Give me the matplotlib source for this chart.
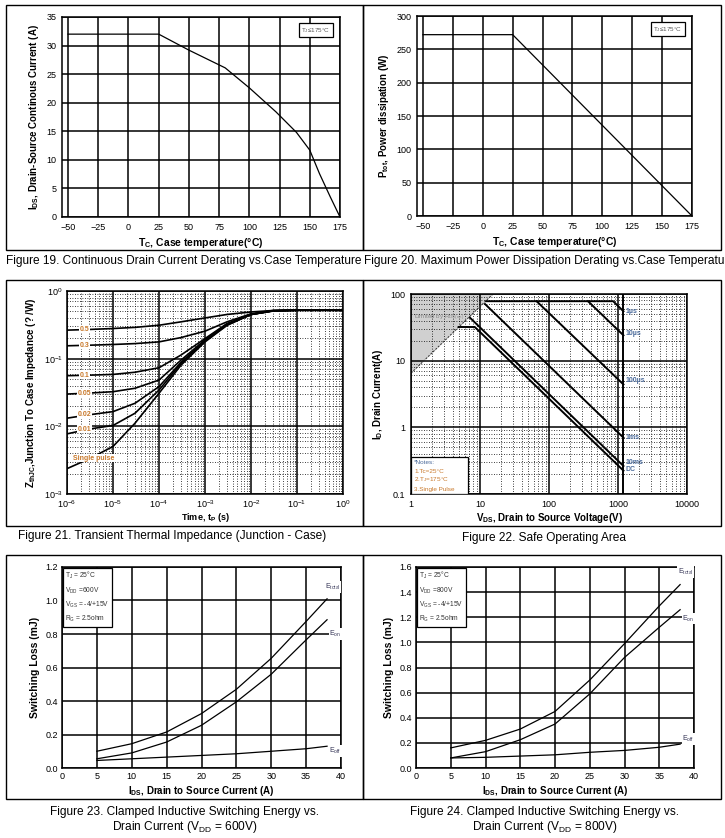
import matplotlib
matplotlib.use("Agg")
import matplotlib.pyplot as plt
from matplotlib.patches import Rectangle
from matplotlib.ticker import FixedLocator, NullFormatter, LogLocator

plt.rcParams['font.family'] = ['Liberation Sans', 'DejaVu Sans']

W, H = 725, 838

# Figure 19: continuous drain current derating
tc_id = [-50, 25, 50, 80, 100, 122, 139, 150, 158, 167, 175]
id_cont = [32, 32, 29.2, 26.1, 22.6, 18.4, 14.8, 11.7, 7.6, 3.5, 0]

# Figure 20: power dissipation derating
tc_p = [-50, 25, 175]
p_tot = [272, 272, 0]

# Figure 21: transient thermal impedance
t_p = [1e-6, 3e-6, 1e-5, 3e-5, 1e-4, 3e-4, 1e-3, 3e-3, 1e-2, 3e-2, 1e-1, 1]
z_curves = {
    "0.5": [0.264, 0.27, 0.279, 0.29, 0.312, 0.35, 0.40, 0.45, 0.49, 0.515, 0.52, 0.52],
    "0.3": [0.155, 0.158, 0.162, 0.167, 0.177, 0.205, 0.255, 0.35, 0.46, 0.515, 0.52, 0.52],
    "0.1": [0.056, 0.057, 0.0585, 0.063, 0.0734, 0.113, 0.198, 0.33, 0.45, 0.51, 0.52, 0.52],
    "0.05": [0.030, 0.031, 0.0325, 0.0365, 0.0483, 0.095, 0.19, 0.325, 0.45, 0.51, 0.52, 0.52],
    "0.02": [0.0132, 0.0148, 0.0165, 0.0219, 0.0386, 0.088, 0.186, 0.32, 0.45, 0.51, 0.52, 0.52],
    "0.01": [0.00774, 0.0091, 0.0103, 0.0156, 0.0344, 0.085, 0.181, 0.315, 0.45, 0.51, 0.52, 0.52],
    "Single pulse": [0.00237, 0.0033, 0.00504, 0.0111, 0.0308, 0.080, 0.177, 0.31, 0.45, 0.505, 0.52, 0.52],
}
z_label_y = {"0.5": 0.27, "0.3": 0.158, "0.1": 0.057, "0.05": 0.031,
             "0.02": 0.0148, "0.01": 0.0091, "Single pulse": 0.0034}

# Figure 22: safe operating area
rds_v = [1, 15.4]
rds_i = [6.5, 100]
soa_lines = {
    "1µs": ([12.3, 850, 1200], [78, 78, 55]),
    "10µs": ([367, 1200], [78, 24]),
    "100µs": ([66, 1200], [78, 4.4]),
    "1ms": ([11.8, 1200], [70.8, 0.7]),
    "10ms": ([7.17, 1200], [44, 0.263]),
    "DC": ([4.9, 8.4, 1200], [32, 32, 0.224]),
}
soa_label_y = {"1µs": 54, "10µs": 26, "100µs": 5.0, "1ms": 0.7, "10ms": 0.3, "DC": 0.23}

# Figure 23: switching energy, VDD = 600 V
ids_23 = [5, 10, 15, 20, 25, 30, 35, 38]
etot_23 = [0.10, 0.145, 0.215, 0.325, 0.47, 0.655, 0.875, 1.01]
eon_23 = [0.055, 0.09, 0.155, 0.255, 0.395, 0.56, 0.765, 0.885]
eoff_23 = [0.045, 0.055, 0.065, 0.075, 0.085, 0.10, 0.115, 0.13]

# Figure 24: switching energy, VDD = 800 V
ids_24 = [5, 10, 15, 20, 25, 30, 35, 38]
etot_24 = [0.16, 0.22, 0.31, 0.45, 0.70, 0.99, 1.29, 1.46]
eon_24 = [0.08, 0.13, 0.225, 0.35, 0.59, 0.88, 1.12, 1.26]
eoff_24 = [0.08, 0.085, 0.095, 0.105, 0.125, 0.14, 0.165, 0.19]

ORANGE = '#c8782a'
BLUE = '#4a6a9a'


def px_axes(fig, l, t, r, b):
    return fig.add_axes([l / W, 1 - b / H, (r - l) / W, (b - t) / H])


def px_box(fig, l, t, r, b):
    fig.add_artist(Rectangle((l / W, 1 - b / H), (r - l) / W, (b - t) / H,
                             transform=fig.transFigure, fill=False, lw=1.0, color='k'))


def caption(fig, x, y, s, ha='left'):
    fig.text(x / W, 1 - y / H, s, fontsize=8.6, ha=ha, va='center')


def style_lin(ax, xt, yt, yfmt):
    ax.set_xticks(xt)
    ax.set_yticks(yt)
    ax.set_yticklabels([yfmt % v for v in yt])
    ax.grid(True, color='k', lw=1.1)
    ax.tick_params(length=0, labelsize=6.5, pad=4)
    for s in ax.spines.values():
        s.set_linewidth(1.1)


def style_log(ax):
    ax.grid(True, which='major', color='k', lw=1.1)
    ax.grid(True, which='minor', color='k', lw=0.6, ls=(0, (1, 2)))
    ax.tick_params(which='both', length=0, labelsize=6.5, pad=3)
    for s in ax.spines.values():
        s.set_linewidth(1.1)


def tj_box(ax):
    ax.text(0.965, 0.955, "T$_\\mathregular{J}$≤175°C", transform=ax.transAxes,
            fontsize=4.5, ha='right', va='top', color='#555555',
            bbox=dict(boxstyle='square,pad=0.4', fc='white', ec='k', lw=0.9))


def cond_box(ax, vdd):
    lines = ["T$_\\mathregular{J}$ = 25°C", "V$_\\mathregular{DD}$ =%dV" % vdd,
             "V$_\\mathregular{GS}$ = -4/+15V", "R$_\\mathregular{G}$ = 2.5ohm"]
    ax.text(0.012, 0.985, "\n".join(lines), transform=ax.transAxes, fontsize=4.8,
            ha='left', va='top', linespacing=1.6, color='#333333',
            bbox=dict(boxstyle='square,pad=0.35', fc='white', ec='k', lw=0.9), zorder=5)


def energy_plot(ax, x, etot, eon, eoff, ymax, vdd, lab_y):
    ax.plot(x, etot, color='k', lw=0.9)
    ax.plot(x, eon, color='k', lw=0.9)
    ax.plot(x, eoff, color='k', lw=0.9)
    ax.set_xlim(0, 40)
    ax.set_ylim(0, ymax)
    style_lin(ax, range(0, 41, 5), [round(v * 0.2, 1) for v in range(int(ymax / 0.2 + 0.5) + 1)], "%.1f")
    ax.tick_params(pad=3)
    ax.set_ylabel("Switching Loss (mJ)", fontsize=7.5, fontweight='bold')
    ax.set_xlabel("I$_\\mathregular{DS}$, Drain to Source Current (A)", fontsize=7, fontweight='bold', labelpad=2)
    for name, yv, xx in zip(["E$_\\mathregular{total}$", "E$_\\mathregular{on}$", "E$_\\mathregular{off}$"],
                            lab_y, [38.8, 39.2, 39.2]):
        ax.text(xx, yv, name, fontsize=5, color='#333355', ha='center', va='center',
                bbox=dict(fc='white', ec='none', pad=0.5))
    cond_box(ax, vdd)


fig = plt.figure(figsize=(W / 100, H / 100), dpi=100)

# panel frames
px_box(fig, 6, 5, 363, 250)
px_box(fig, 363, 5, 721, 250)
px_box(fig, 6, 280, 363, 526)
px_box(fig, 363, 280, 721, 526)
px_box(fig, 6, 555, 363, 799)
px_box(fig, 363, 555, 721, 799)

# Figure 19
ax = px_axes(fig, 62, 17, 340, 217)
ax.plot(tc_id, id_cont, color='k', lw=0.9)
ax.set_ylim(0, 35)
style_lin(ax, range(-50, 176, 25), range(0, 36, 5), "%d")
ax.set_xlim(-55, 175)
ax.set_ylabel("I$_\\mathregular{DS}$, Drain-Source Continous Current (A)", fontsize=7, fontweight='bold')
ax.set_xlabel("T$_\\mathregular{C}$, Case temperature(°C)", fontsize=7.5, fontweight='bold', labelpad=3)
tj_box(ax)
caption(fig, 6, 261, "Figure 19. Continuous Drain Current Derating vs.Case Temperature")

# Figure 20
ax = px_axes(fig, 417, 16, 692, 216)
ax.plot(tc_p, p_tot, color='k', lw=0.9)
ax.set_ylim(0, 300)
style_lin(ax, range(-50, 176, 25), range(0, 301, 50), "%d")
ax.set_xlim(-55, 175)
ax.set_ylabel("P$_\\mathregular{tot}$, Power dissipation (W)", fontsize=7, fontweight='bold')
ax.set_xlabel("T$_\\mathregular{C}$, Case temperature(°C)", fontsize=7.5, fontweight='bold', labelpad=3)
tj_box(ax)
caption(fig, 364, 261, "Figure 20. Maximum Power Dissipation Derating vs.Case Temperature")

# Figure 21
ax = px_axes(fig, 67, 291, 343, 494)
for name, z in z_curves.items():
    ax.plot(t_p, z, color='k', lw=1.2)
    xl = 1.35e-6 if name == "Single pulse" else 2.4e-6
    ax.text(xl, z_label_y[name], name, fontsize=5, fontweight='bold', color=ORANGE,
            ha='left' if name == "Single pulse" else 'center', va='center',
            bbox=dict(fc='white', ec='none', pad=0.3))
ax.set_xscale('log')
ax.set_yscale('log')
ax.set_xlim(1e-6, 1)
ax.set_ylim(1e-3, 1)
ax.xaxis.set_minor_locator(LogLocator(subs=range(2, 10)))
ax.yaxis.set_minor_locator(LogLocator(subs=range(2, 10)))
ax.xaxis.set_minor_formatter(NullFormatter())
ax.yaxis.set_minor_formatter(NullFormatter())
style_log(ax)
ax.set_ylabel("Z$_\\mathregular{thJC}$,Junction To Case Impedance (? /W)", fontsize=7, fontweight='bold')
ax.set_xlabel("Time, t$_\\mathregular{P}$ (s)", fontsize=6.5, fontweight='bold', labelpad=1)
caption(fig, 172, 536, "Figure 21. Transient Thermal Impedance (Junction - Case)", ha='center')

# Figure 22
ax = px_axes(fig, 411, 294, 687, 494)
ax.fill_between(rds_v, rds_i, 100, color='#d0d0d0', lw=0, zorder=0.5)
ax.plot(rds_v, rds_i, color='#333333', lw=0.7, ls=(0, (2, 1.5)))
ax.text(1.1, 44, "Limited by R$_\\mathregular{DS(on)}$", fontsize=4.5, color='#888888', va='center')
for name, (v, i) in soa_lines.items():
    ax.plot(v, i, color='k', lw=1.4)
    ax.text(1300, soa_label_y[name], name, fontsize=5, fontweight='bold', color=BLUE,
            ha='left', va='center')
ax.plot([1200, 1200], [0.1, 100], color='k', lw=1.4)
ax.set_xscale('log')
ax.set_yscale('log')
ax.set_xlim(1, 10000)
ax.set_ylim(0.1, 100)
ax.xaxis.set_major_locator(FixedLocator([1, 10, 100, 1000, 10000]))
ax.yaxis.set_major_locator(FixedLocator([0.1, 1, 10, 100]))
ax.set_xticklabels(["1", "10", "100", "1000", "10000"])
ax.set_yticklabels(["0.1", "1", "10", "100"])
ax.xaxis.set_minor_locator(LogLocator(subs=range(2, 10)))
ax.yaxis.set_minor_locator(LogLocator(subs=range(2, 10)))
ax.xaxis.set_minor_formatter(NullFormatter())
ax.yaxis.set_minor_formatter(NullFormatter())
style_log(ax)
ax.tick_params(pad=4)
ax.set_ylabel("I$_\\mathregular{D}$, Drain Current(A)", fontsize=7, fontweight='bold')
ax.set_xlabel("V$_\\mathregular{DS}$, Drain to Source Voltage(V)", fontsize=7, fontweight='bold', labelpad=2)
ax.add_patch(Rectangle((0, 0), 0.205, 0.185, transform=ax.transAxes, fc='white', ec='k', lw=0.9, zorder=4))
for k, (s, c) in enumerate([("*Notes:", BLUE), ("1.Tc=25°C", ORANGE),
                            ("2.T$_\\mathregular{J}$=175°C", ORANGE), ("3.Single Pulse", ORANGE)]):
    ax.text(0.012, 0.16 - k * 0.045, s, transform=ax.transAxes, fontsize=4.6, color=c,
            va='center', ha='left', zorder=5)
caption(fig, 544, 538, "Figure 22. Safe Operating Area", ha='center')

# Figure 23
ax = px_axes(fig, 62, 567, 341, 768)
energy_plot(ax, ids_23, etot_23, eon_23, eoff_23, 1.2, 600, [1.08, 0.8, 0.1])
caption(fig, 185, 812, "Figure 23. Clamped Inductive Switching Energy vs.", ha='center')
caption(fig, 185, 827, "Drain Current (V$_\\mathregular{DD}$ = 600V)", ha='center')

# Figure 24
ax = px_axes(fig, 416, 567, 694, 768)
energy_plot(ax, ids_24, etot_24, eon_24, eoff_24, 1.6, 800, [1.56, 1.19, 0.23])
caption(fig, 545, 812, "Figure 24. Clamped Inductive Switching Energy vs.", ha='center')
caption(fig, 545, 827, "Drain Current (V$_\\mathregular{DD}$ = 800V)", ha='center')

fig.savefig("out.png", dpi=100)
